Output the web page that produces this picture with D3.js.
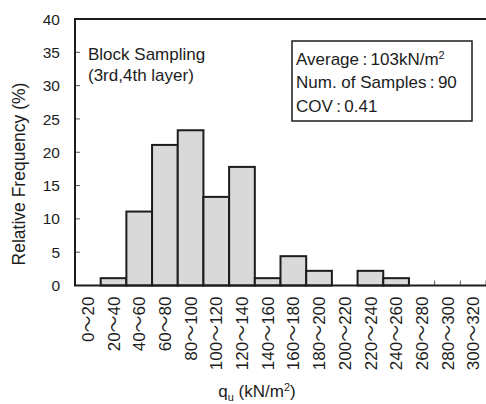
<!DOCTYPE html>
<html>
<head>
<meta charset="utf-8">
<script src="https://cdn.jsdelivr.net/npm/d3@7"></script>
<style>
  body { margin: 0; background: #fff; }
  svg { display: block; font-family: "Liberation Sans", Arial, "Noto Sans CJK JP", sans-serif; }
</style>
</head>
<body>
<div id="chart"></div>
<script>
// bins of qu (kN/m2) and relative frequency (%)
let bins = ["0〜20","20〜40","40〜60","60〜80","80〜100","100〜120","120〜140","140〜160",
            "160〜180","180〜200","200〜220","220〜240","240〜260","260〜280","280〜300","300〜320"]
let freq = [0, 1.1, 11.1, 21.1, 23.3, 13.3, 17.8, 1.1, 4.4, 2.2, 0, 2.2, 1.1, 0, 0, 0]
let yTicks = [0, 5, 10, 15, 20, 25, 30, 35, 40]
let statLines = ["Average\u2009:\u2009103kN/m", "Num. of Samples\u2009:\u200990", "COV\u2009:\u20090.41"]

let W = 486, H = 404
let margin = {top: 19, right: 0, bottom: 118.5, left: 75}
let width = W - margin.left - margin.right,
    height = H - margin.top - margin.bottom
let ink = "#1c1c1c"

let svg = d3.select("#chart").append("svg")
    .attr("width", W).attr("height", H)
let g = svg.append("g")
    .attr("transform", "translate(" + margin.left + "," + margin.top + ")")

let x = d3.scaleBand().domain(bins).range([0, width]).padding(0)
let y = d3.scaleLinear().domain([0, 40]).range([height, 0])

// x ticks at bin edges (inward)
let edges = bins.map(b => x(b)).concat([width])
g.selectAll(".xt").data(edges).enter().append("line")
    .attr("x1", d => d).attr("x2", d => d)
    .attr("y1", height).attr("y2", height - 5)
    .attr("stroke", "#555").attr("stroke-width", 1)

// y ticks (inward)
g.selectAll(".yt").data(yTicks).enter().append("line")
    .attr("x1", 0).attr("x2", 5)
    .attr("y1", d => y(d)).attr("y2", d => y(d))
    .attr("stroke", "#555").attr("stroke-width", 1)

g.selectAll(".yl").data(yTicks).enter().append("text")
    .attr("x", -15).attr("y", d => y(d))
    .attr("dy", "0.36em")
    .attr("text-anchor", "end")
    .attr("font-size", "15.5px")
    .attr("fill", ink)
    .text(d => d)

// bars
g.selectAll(".bar").data(bins.map((b, i) => ({b: b, v: freq[i]})).filter(d => d.v > 0))
  .enter().append("rect")
    .attr("x", d => x(d.b))
    .attr("y", d => y(d.v))
    .attr("width", x.bandwidth())
    .attr("height", d => height - y(d.v))
    .attr("fill", "#d9d9d9")
    .attr("stroke", ink)
    .attr("stroke-width", 2)

// frame: left, top, bottom
g.append("path")
    .attr("d", "M" + width + ",0H0V" + height + "H" + width)
    .attr("fill", "none")
    .attr("stroke", ink)
    .attr("stroke-width", 2)

// x tick labels, rotated
g.selectAll(".xl").data(bins).enter().append("text")
    .attr("transform", d => "translate(" + (x(d) + x.bandwidth() / 2) + "," + (height + 11) + ")rotate(-90)")
    .attr("dy", "0.36em")
    .attr("text-anchor", "end")
    .attr("font-size", "17px")
    .attr("fill", ink)
    .text(d => d)

// axis titles
let xt = svg.append("text")
    .attr("x", margin.left + 182).attr("y", 397)
    .attr("text-anchor", "middle")
    .attr("font-size", "17px")
    .attr("fill", ink)
xt.append("tspan").text("q")
xt.append("tspan").attr("font-size", "11px").attr("dy", "4").text("u")
xt.append("tspan").attr("dy", "-4").text(" (kN/m")
xt.append("tspan").attr("font-size", "11px").attr("dy", "-6").text("2")
xt.append("tspan").attr("dy", "6").text(")")

svg.append("text")
    .attr("transform", "translate(25,174)rotate(-90)")
    .attr("text-anchor", "middle")
    .attr("font-size", "17.5px")
    .attr("fill", ink)
    .text("Relative Frequency (%)")

// annotation
g.append("text").attr("x", 13).attr("y", 41)
    .attr("font-size", "17px").attr("fill", ink).text("Block Sampling")
g.append("text").attr("x", 13).attr("y", 62)
    .attr("font-size", "17px").attr("fill", ink).text("(3rd,4th layer)")

// stats box
let box = svg.append("g").attr("transform", "translate(292,41)")
box.append("rect")
    .attr("width", 180).attr("height", 80)
    .attr("fill", "#fff").attr("stroke", ink).attr("stroke-width", 1.5)
statLines.forEach((t, i) => {
  let tx = box.append("text")
      .attr("x", 4).attr("y", 24 + i * 23.3)
      .attr("font-size", "17px").attr("fill", ink)
      .text(t)
  if (i == 0) tx.append("tspan").attr("font-size", "11px").attr("dy", "-6").text("2")
})
</script>
</body>
</html>
